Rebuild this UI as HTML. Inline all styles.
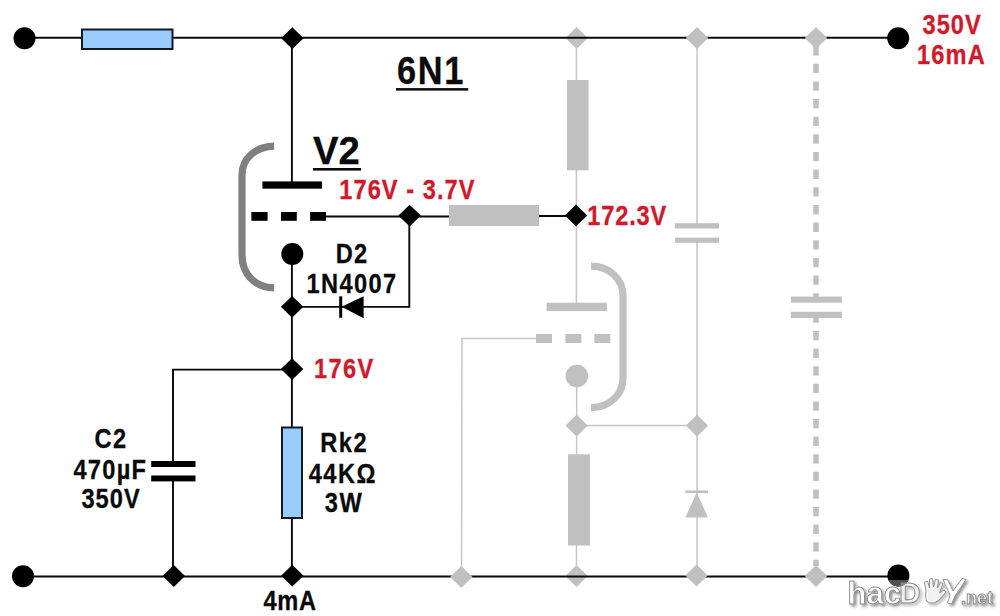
<!DOCTYPE html>
<html><head><meta charset="utf-8">
<style>
html,body{margin:0;padding:0;background:#fff;width:1000px;height:616px;overflow:hidden}
svg{display:block}
text{font-family:"Liberation Sans",sans-serif;font-weight:bold}
</style></head>
<body>
<svg width="1000" height="616" viewBox="0 0 1000 616">
<!-- ===== GRAY (background) circuit ===== -->
<g fill="#c0c0c0" stroke="none">
  <!-- top diamond under black line -->
  <path d="M576.6 27.1 L587.8 38 L576.6 48.9 L565.4 38 Z"/>
  <!-- bottom diamond under black line -->
  <path d="M576.5 565.1 L587.7 576 L576.5 586.9 L565.3 576 Z"/>
</g>
<g stroke="#c6c6c6" stroke-width="1.5" fill="none">
  <!-- plate wire of gray tube -->
  <line x1="576.4" y1="38" x2="576.4" y2="303"/>
  <!-- grid wire -->
  <polyline points="536,338.5 462,338.5 461.5,577"/>
  <!-- cathode wire -->
  <line x1="576.7" y1="376" x2="576.5" y2="576"/>
  <line x1="576.5" y1="425.6" x2="697" y2="425.6"/>
  <!-- right wire x=697 -->
  <line x1="697" y1="38" x2="697" y2="225"/>
  <line x1="697" y1="240" x2="697" y2="576"/>
</g>
<g fill="#c0c0c0" stroke="none">
  <!-- upper gray resistor -->
  <rect x="567" y="80" width="21.6" height="90.3"/>
  <!-- horizontal gray resistor -->
  <rect x="449" y="205" width="90" height="21"/>
  <!-- lower gray resistor -->
  <rect x="568" y="454.3" width="22" height="91.2"/>
  <!-- gray tube plate -->
  <rect x="546.6" y="302.7" width="60.3" height="8.4"/>
  <!-- grid dashes -->
  <rect x="536" y="334" width="16" height="9"/>
  <rect x="565.4" y="334" width="16" height="9"/>
  <rect x="594.3" y="334" width="16" height="9"/>
  <!-- cathode -->
  <circle cx="576.8" cy="376.1" r="11.3"/>
  <!-- cap 1 -->
  <rect x="674.8" y="223.2" width="44.2" height="5.3"/>
  <rect x="674.8" y="237.6" width="44.2" height="5.2"/>
  <!-- diode pointing up -->
  <rect x="685.4" y="490.5" width="22.6" height="2.6"/>
  <path d="M696.7 492.5 L708 517.4 L685.4 517.4 Z"/>
  <!-- cap 2 -->
  <rect x="790.8" y="296.6" width="51.1" height="6.1"/>
  <rect x="790.8" y="311.8" width="51.1" height="6.2"/>
</g>
<!-- dashed vertical line x=816 -->
<line x1="816" y1="46.1" x2="816" y2="297" stroke="#c0c0c0" stroke-width="5.5" stroke-dasharray="9.3 8.35"/>
<line x1="816" y1="313.4" x2="816" y2="566" stroke="#c0c0c0" stroke-width="5.5" stroke-dasharray="9.3 8.3"/>
<!-- gray tube envelope -->
<path d="M591 266.2 C609 266.2 623 279 623 296 L623 378 C623 395 609 407.7 591 407.7" fill="none" stroke="#c0c0c0" stroke-width="7.2"/>

<!-- ===== BLACK circuit ===== -->
<g stroke="#080808" stroke-width="1.9" fill="none">
  <line x1="24" y1="37.8" x2="898" y2="37.8"/>
  <line x1="23" y1="576.5" x2="898" y2="576.5"/>
  <!-- V2 plate wire -->
  <line x1="291.9" y1="38" x2="291.9" y2="182"/>
  <!-- cathode to bottom -->
  <line x1="291.9" y1="254" x2="291.9" y2="576"/>
  <!-- grid wire -->
  <line x1="326" y1="216.5" x2="449" y2="216.5"/>
  <line x1="539" y1="216" x2="576" y2="216"/>
  <polyline points="409.3,216 409.3,306.9 292,306.9"/>
  <!-- C2 wires -->
  <polyline points="292,369.6 173,369.6 173,462"/>
  <line x1="173" y1="480" x2="173" y2="576"/>
</g>
<!-- resistors blue -->
<rect x="82" y="29.5" width="90.5" height="19.5" fill="#99ccfa" stroke="#0f1a26" stroke-width="2"/>
<rect x="282" y="427.5" width="20" height="90.5" fill="#99ccfa" stroke="#0f1a26" stroke-width="2"/>
<g fill="#000" stroke="none">
  <circle cx="24.5" cy="38.2" r="11"/>
  <circle cx="898.2" cy="38.3" r="11"/>
  <circle cx="23" cy="576.3" r="11"/>
  <circle cx="898.4" cy="575.5" r="11"/>
  <!-- diamonds -->
  <path d="M292.3 27.3 L303.5 38.2 L292.3 49.1 L281.1 38.2 Z"/>
  <path d="M409.6 204.7 L420.8 215.6 L409.6 226.5 L398.4 215.6 Z"/>
  <path d="M576 204.5 L587.2 215.4 L576 226.3 L564.8 215.4 Z"/>
  <path d="M292.1 295.9 L303.3 306.8 L292.1 317.7 L280.9 306.8 Z"/>
  <path d="M292.1 358.2 L303.3 369.1 L292.1 380 L280.9 369.1 Z"/>
  <path d="M173.8 565.1 L185 576 L173.8 586.9 L162.6 576 Z"/>
  <path d="M292.3 564.8 L303.5 575.7 L292.3 586.6 L281.1 575.7 Z"/>
  <!-- V2 plate -->
  <rect x="262.4" y="181.4" width="59.6" height="7.3"/>
  <!-- grid dashes -->
  <rect x="251.4" y="212" width="16.2" height="8.8"/>
  <rect x="281" y="212" width="15.8" height="8.8"/>
  <rect x="310.1" y="212" width="15.9" height="8.8"/>
  <!-- cathode -->
  <circle cx="292.3" cy="254" r="11"/>
  <!-- C2 plates -->
  <rect x="151.2" y="461" width="44.3" height="6"/>
  <rect x="151.2" y="475.5" width="44.3" height="5.9"/>
  <!-- diode -->
  <rect x="339.2" y="296.3" width="3" height="21.4"/>
  <path d="M341.5 306.8 L363.6 296.3 L363.6 318.2 Z"/>
</g>
<!-- V2 envelope -->
<path d="M274.2 146.2 C256 146.6 242 158 242 175 L242 255 C242 274 255 287.6 274.2 287.8" fill="none" stroke="#808080" stroke-width="7.2"/>

<!-- gray diamonds over black line -->
<g fill="#c0c0c0">
  <path d="M697 27.1 L708.2 38 L697 48.9 L685.8 38 Z"/>
  <path d="M816 27.1 L827.2 38 L816 48.9 L804.8 38 Z"/>
  <path d="M461.3 566.1 L472.5 577 L461.3 587.9 L450.1 577 Z"/>
  <path d="M696.5 564.6 L707.7 575.5 L696.5 586.4 L685.3 575.5 Z"/>
  <path d="M816 565.1 L827.2 576 L816 586.9 L804.8 576 Z"/>
  <path d="M576.6 414.7 L587.8 425.6 L576.6 436.5 L565.4 425.6 Z"/>
  <path d="M697 414.7 L708.2 425.6 L697 436.5 L685.8 425.6 Z"/>
</g>

<!-- ===== TEXT ===== -->
<g fill="#0a0a0a" stroke="#0a0a0a" stroke-width="0.3" font-size="27.5">
  <text x="397" y="83.6" font-size="39" letter-spacing="2" stroke-width="0.3" transform="translate(397 0) scale(0.88 1) translate(-397 0)">6N1</text>
  <text x="313" y="163.8" font-size="39.5" stroke-width="0.3" transform="translate(313 0) scale(0.97 1) translate(-313 0)">V2</text>
  <text x="335.7" y="262.6" letter-spacing="1.54" transform="translate(335.7 0) scale(0.86 1) translate(-335.7 0)">D2</text>
  <text x="306.4" y="293.3" letter-spacing="1.63" transform="translate(306.4 0) scale(0.86 1) translate(-306.4 0)">1N4007</text>
  <text x="94.5" y="448.3" letter-spacing="1.54" transform="translate(94.5 0) scale(0.86 1) translate(-94.5 0)">C2</text>
  <text x="73.4" y="478.8" letter-spacing="1.48" transform="translate(73.4 0) scale(0.86 1) translate(-73.4 0)">470µF</text>
  <text x="81.5" y="508.3" letter-spacing="1.15" transform="translate(81.5 0) scale(0.86 1) translate(-81.5 0)">350V</text>
  <text x="320.2" y="452.3" letter-spacing="1.85" transform="translate(320.2 0) scale(0.86 1) translate(-320.2 0)">Rk2</text>
  <text x="308.8" y="483.1" letter-spacing="1.66" transform="translate(308.8 0) scale(0.86 1) translate(-308.8 0)">44KΩ</text>
  <text x="324.8" y="512.3" letter-spacing="1.74" transform="translate(324.8 0) scale(0.86 1) translate(-324.8 0)">3W</text>
  <text x="263.4" y="610.1" letter-spacing="0.86" transform="translate(263.4 0) scale(0.86 1) translate(-263.4 0)">4mA</text>
</g>
<rect x="396" y="88.1" width="72.2" height="2.5" fill="#0a0a0a"/>
<rect x="313" y="168" width="48" height="2.6" fill="#0a0a0a"/>
<g fill="#d01a2c" stroke="#d01a2c" stroke-width="0.3" font-size="27.5">
  <text x="339.3" y="198.9" letter-spacing="1.2" transform="translate(339.3 0) scale(0.86 1) translate(-339.3 0)">176V - 3.7V</text>
  <text x="587.2" y="225.4" letter-spacing="0.99" transform="translate(587.2 0) scale(0.86 1) translate(-587.2 0)">172.3V</text>
  <text x="314.1" y="378" letter-spacing="1.54" transform="translate(314.1 0) scale(0.86 1) translate(-314.1 0)">176V</text>
  <text x="922.6" y="33.6" letter-spacing="1.15" transform="translate(922.6 0) scale(0.86 1) translate(-922.6 0)">350V</text>
  <text x="917.1" y="64.3" letter-spacing="1.3" transform="translate(917.1 0) scale(0.86 1) translate(-917.1 0)">16mA</text>
</g>

<!-- watermark -->
<defs>
  <filter id="sh" x="-20%" y="-30%" width="140%" height="160%">
    <feGaussianBlur in="SourceAlpha" stdDeviation="1.6"/>
    <feOffset dx="2" dy="2" result="b"/>
    <feComponentTransfer in="b" result="c"><feFuncA type="linear" slope="0.45"/></feComponentTransfer>
    <feMerge><feMergeNode in="c"/><feMergeNode in="SourceGraphic"/></feMerge>
  </filter>
  <clipPath id="cb"><rect x="880" y="580" width="40" height="20"/></clipPath>
</defs>
<circle cx="898.4" cy="575.5" r="11" fill="#505050" clip-path="url(#cb)"/>
<g filter="url(#sh)" fill="#fff" stroke="#8a8a8a" stroke-width="0.9" font-family="Liberation Sans">
  <text x="847.5" y="603.5" font-size="31" font-weight="bold">hac</text>
  <text x="899" y="603" font-size="30" fill-opacity="0.3">D</text>
  <path d="M926 591 L924.5 582 L927.5 581 L929.5 588 L929.5 579 L932.5 578.5 L933.5 587 L935.5 579.5 L938.5 580 L937.5 588 L940.5 582.5 L943 583.5 L939.5 593 L944 590 L946 592 L939 600 Q935 604 930 603 Q925.5 602 925.5 596 Z" fill-opacity="0.5"/>
  <path d="M943 579.5 L947.5 579.5 L953 591 L962 578.5 L966 579.5 L955 596 L951.5 604 L947.5 603 L950 595 Z"/>
  <text x="961" y="603.5" font-size="18" font-weight="bold">.net</text>
</g>
</svg>
</body></html>
